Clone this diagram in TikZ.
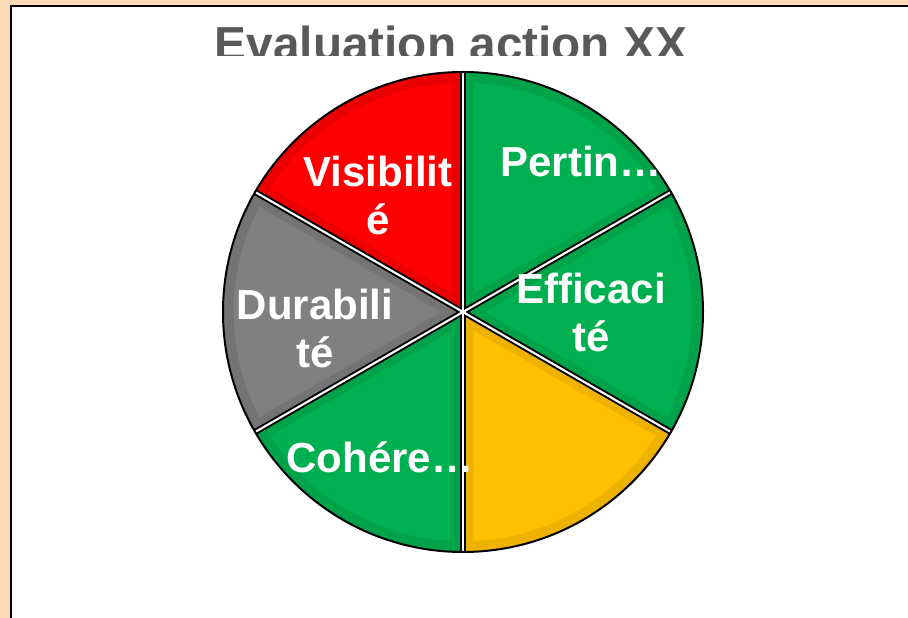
\documentclass[tikz,border=0pt]{standalone}
\usepackage{fontspec}
\setmainfont{Liberation Sans}
\definecolor{peach}{RGB}{251,217,182}
\definecolor{titlegray}{RGB}{89,89,89}
\definecolor{pgreen}{RGB}{0,176,80}
\definecolor{pgreendk}{RGB}{0,163,74}
\definecolor{pred}{RGB}{255,0,0}
\definecolor{preddk}{RGB}{234,0,0}
\definecolor{pgray}{RGB}{128,128,128}
\definecolor{pgraydk}{RGB}{116,116,116}
\definecolor{pyellow}{RGB}{255,192,0}
\definecolor{pyellowdk}{RGB}{238,178,0}
\newcommand\pieslice[3]{%
  \fill[#2] (C) -- ++(#1:240) arc[start angle=#1, delta angle=60, radius=240] -- cycle;
  \begin{scope}
    \clip (C) -- ++(#1:240) arc[start angle=#1, delta angle=60, radius=240] -- cycle;
    \draw[#3, line width=16pt] (C) -- ++(#1:240) arc[start angle=#1, delta angle=60, radius=240] -- cycle;
  \end{scope}
}
\begin{document}
\begin{tikzpicture}[x=0.75pt,y=0.75pt,
  lab/.style={text=white, font=\fontsize{31.5}{36}\selectfont\bfseries, align=center, anchor=base, inner sep=0pt},
  divblack/.style={black, line width=4.5pt},
  divwhite/.style={white, line width=1.6pt}]
\useasboundingbox (0,0) rectangle (908,618);
\clip (0,0) rectangle (908,618);
\fill[peach] (0,0) rectangle (908,618);
\draw[line width=1.5pt, fill=white] (11,-20) rectangle (930,612);
\begin{scope}
  \clip (0,562) rectangle (908,618);
  \node[text=titlegray, font=\fontsize{35.8}{42}\selectfont\bfseries, anchor=base, inner sep=0pt] (title) at (451,557) {Evaluation action XX};
\end{scope}
\coordinate (C) at (463,306);
\pieslice{30}{pgreen}{pgreendk}
\pieslice{-30}{pgreen}{pgreendk}
\pieslice{-90}{pyellow}{pyellowdk}
\pieslice{-150}{pgreen}{pgreendk}
\pieslice{150}{pgray}{pgraydk}
\pieslice{90}{pred}{preddk}
\foreach \a in {30,90,150,210,270,330} \draw[divblack] (C) -- ++(\a:240);
\foreach \a in {30,90,150,210,270,330} \draw[divwhite] (C) -- ++(\a:240);
\draw[black, line width=1.5pt] (C) circle[radius=240];
\node[lab] (vis) at (378,383) {Visibilit\\é};
\node[lab] (per) at (581,441) {Pertin…};
\node[lab] (eff) at (591,266) {Efficaci\\té};
\node[lab] (dur) at (315,250) {Durabili\\té};
\node[lab] (coh) at (380,145) {Cohére…};
\end{tikzpicture}
\end{document}
